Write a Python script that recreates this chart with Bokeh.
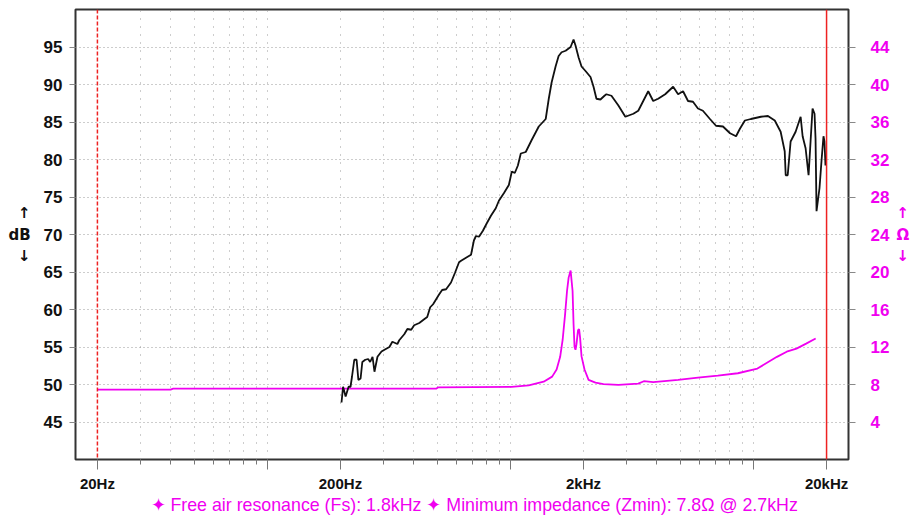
from bokeh.plotting import figure
from bokeh.models import Range1d, LinearAxis, FixedTicker, Span, Title
from bokeh.embed import file_html
from bokeh.resources import INLINE

# ---- data ----
spl_freq = [202, 205, 210, 216, 220, 223, 228, 233, 237, 242, 246, 253, 260, 265, 271, 276, 284, 295,
            306, 318, 327, 343, 349, 366, 377, 391, 402, 422, 442, 455, 468, 481, 509, 524, 544, 570,
            592, 615, 627, 657, 689, 708, 722, 743, 771, 800, 832, 871, 897, 940, 986, 1014, 1043,
            1074, 1104, 1157, 1224, 1309, 1398, 1439, 1479, 1535, 1580, 1625, 1688, 1737, 1770, 1820,
            1854, 1909, 1963, 2038, 2137, 2199, 2261, 2348, 2439, 2484, 2606, 2783, 2973, 3207, 3360,
            3522, 3692, 3870, 4056, 4335, 4676, 4900, 5136, 5383, 5642, 5914, 6198, 6626, 7015, 7497,
            8014, 8484, 8800, 9226, 9763, 10737, 11477, 12242, 12946, 13453, 13580, 13841, 14228,
            14919, 15644, 15942, 16397, 16866, 17187, 17514, 17848, 18017, 18188, 18708, 19064,
            19427, 19611, 19797]
spl_db = [47.6, 49.7, 48.4, 49.7, 49.7, 51.0, 53.3, 53.3, 50.6, 50.8, 53.0, 53.3, 53.4, 53.0, 53.7,
          51.7, 53.7, 54.4, 54.7, 55.0, 55.7, 55.4, 55.9, 56.7, 57.4, 57.3, 57.9, 58.2, 58.7, 59.0,
          60.3, 60.7, 62.0, 62.6, 62.7, 63.6, 64.9, 66.3, 66.5, 66.9, 67.3, 69.2, 69.8, 69.7, 70.5,
          71.5, 72.5, 73.5, 74.5, 75.5, 76.6, 78.4, 78.2, 79.2, 80.8, 81.0, 82.6, 84.4, 85.4, 88.1,
          90.3, 92.4, 93.8, 94.3, 94.5, 94.8, 95.0, 96.0, 95.2, 93.6, 92.4, 91.8, 91.0, 89.7, 88.1,
          88.0, 88.5, 88.7, 88.5, 87.2, 85.7, 86.1, 86.5, 87.8, 89.1, 87.8, 88.1, 88.7, 89.7, 88.7,
          89.1, 87.8, 87.7, 86.8, 86.5, 85.4, 84.5, 84.4, 83.5, 83.1, 84.1, 85.2, 85.4, 85.7, 85.8,
          85.2, 83.7, 81.1, 77.9, 77.9, 82.4, 83.7, 85.7, 83.1, 81.5, 77.9, 82.4, 86.8, 86.1, 82.8,
          73.1, 76.2, 79.8, 83.1, 82.4, 79.2]

imp_freq = [20, 40, 41, 495, 505, 1012, 1190, 1371, 1486, 1550, 1603, 1641, 1680, 1711, 1737, 1770,
            1803, 1820, 1837, 1854, 1871, 1899, 1918, 1936, 1963, 2019, 2098, 2240, 2416, 2783, 3360,
            3542, 3870, 4900, 5914, 7140, 8630, 10389, 12500, 13710, 15040, 16480, 18040]
imp_ohm = [7.45, 7.45, 7.55, 7.55, 7.7, 7.75, 7.9, 8.3, 8.84, 9.6, 10.95, 12.75, 15.5, 18.0, 19.4,
           20.15, 18.0, 14.45, 12.0, 11.7, 12.3, 13.8, 13.9, 13.0, 11.0, 9.6, 8.5, 8.2, 8.05, 7.95,
           8.1, 8.35, 8.25, 8.5, 8.73, 8.95, 9.2, 9.7, 10.95, 11.5, 11.83, 12.36, 12.9]

db_ticks = [45, 50, 55, 60, 65, 70, 75, 80, 85, 90, 95]
ohm_ticks = [4, 8, 12, 16, 20, 24, 28, 32, 36, 40, 44]
x_label_ticks = [20, 200, 2000, 20000]
x_label_text = ["20Hz", "200Hz", "2kHz", "20kHz"]
x_decade_ticks = [100, 1000, 10000]
x_minor_ticks = [30, 40, 50, 60, 70, 80, 90, 300, 400, 500, 600, 700, 800, 900,
                 3000, 4000, 5000, 6000, 7000, 8000, 9000]
marker_freqs = [20, 20000]
legend_text = "\u2726 Free air resonance (Fs): 1.8kHz \u2726 Minimum impedance (Zmin): 7.8\u03a9 @ 2.7kHz"

MAGENTA = "#f000f0"
FONT = "Liberation Sans"

p = figure(width=912, height=516, x_axis_type="log",
           x_range=Range1d(16.25, 24620), y_range=Range1d(40, 100),
           output_backend="svg", toolbar_location=None,
           min_border_left=75, min_border_right=61, min_border_top=9, min_border_bottom=53)
p.background_fill_color = "white"
p.border_fill_color = "white"
p.outline_line_color = "#333333"
p.outline_line_width = 2

p.extra_y_ranges = {"ohm": Range1d(0, 48)}

# grids
p.xgrid.ticker = FixedTicker(ticks=x_minor_ticks + x_decade_ticks + [200, 2000])
p.xgrid.grid_line_color = "#9a9a9a"
p.xgrid.grid_line_dash = "1 7"
p.ygrid.ticker = FixedTicker(ticks=db_ticks)
p.ygrid.grid_line_color = "#9a9a9a"
p.ygrid.grid_line_dash = "1 3"

# x axis
xa = p.below[0]
xa.ticker = FixedTicker(ticks=x_label_ticks + x_decade_ticks, minor_ticks=x_minor_ticks)
overrides = {t: s for t, s in zip(x_label_ticks, x_label_text)}
overrides.update({t: "" for t in x_decade_ticks})
xa.major_label_overrides = overrides
xa.axis_line_color = None
xa.major_tick_line_color = "#777777"
xa.minor_tick_line_color = "#777777"
xa.major_tick_out = 10
xa.major_tick_in = 0
xa.minor_tick_out = 5
xa.minor_tick_in = 0
xa.major_label_standoff = 5
xa.major_label_text_font = FONT
xa.major_label_text_font_style = "bold"
xa.major_label_text_font_size = "15px"
xa.major_label_text_color = "#111111"

# left axis
ya = p.left[0]
ya.ticker = FixedTicker(ticks=db_ticks)
ya.axis_line_color = None
ya.major_tick_line_color = "#888888"
ya.major_tick_out = 6
ya.major_tick_in = 0
ya.minor_tick_line_color = None
ya.major_label_standoff = 7
ya.major_label_text_font = FONT
ya.major_label_text_font_style = "bold"
ya.major_label_text_font_size = "17px"
ya.major_label_text_color = "#111111"
ya.axis_label = "\u2191\ndB\n\u2193"
ya.axis_label_orientation = "horizontal"
ya.axis_label_standoff = 10
ya.axis_label_text_font = "DejaVu Sans"
ya.axis_label_text_font_style = "bold"
ya.axis_label_text_font_size = "15px"
ya.axis_label_text_color = "#111111"

# right axis
ra = LinearAxis(y_range_name="ohm", ticker=FixedTicker(ticks=ohm_ticks))
ra.axis_line_color = None
ra.major_tick_line_color = "#888888"
ra.major_tick_out = 7
ra.major_tick_in = 0
ra.minor_tick_line_color = None
ra.major_label_standoff = 15
ra.major_label_text_font = FONT
ra.major_label_text_font_style = "bold"
ra.major_label_text_font_size = "17px"
ra.major_label_text_color = MAGENTA
ra.axis_label = "\u2191\n\u03a9\n\u2193"
ra.axis_label_orientation = "horizontal"
ra.axis_label_standoff = 4
ra.axis_label_text_font = "DejaVu Sans"
ra.axis_label_text_font_style = "bold"
ra.axis_label_text_font_size = "15px"
ra.axis_label_text_color = MAGENTA
p.add_layout(ra, "right")

# marker lines
p.add_layout(Span(location=marker_freqs[0], dimension="height", line_color="#ee2222",
                  line_width=1.5, line_dash="4 2"))
p.add_layout(Span(location=marker_freqs[1], dimension="height", line_color="#ee2222",
                  line_width=1.5))

# curves
p.line(imp_freq, imp_ohm, y_range_name="ohm", line_color=MAGENTA, line_width=1.8)
p.line(spl_freq, spl_db, line_color="#111111", line_width=1.8)

# bottom legend text
t = Title(text=legend_text, align="left", vertical_align="top", text_color=MAGENTA,
          text_font=FONT, text_font_size="17.8px", text_font_style="normal",
          offset=75, standoff=0)
p.add_layout(t, "below")

open("out.html", "w").write(file_html(p, INLINE))
